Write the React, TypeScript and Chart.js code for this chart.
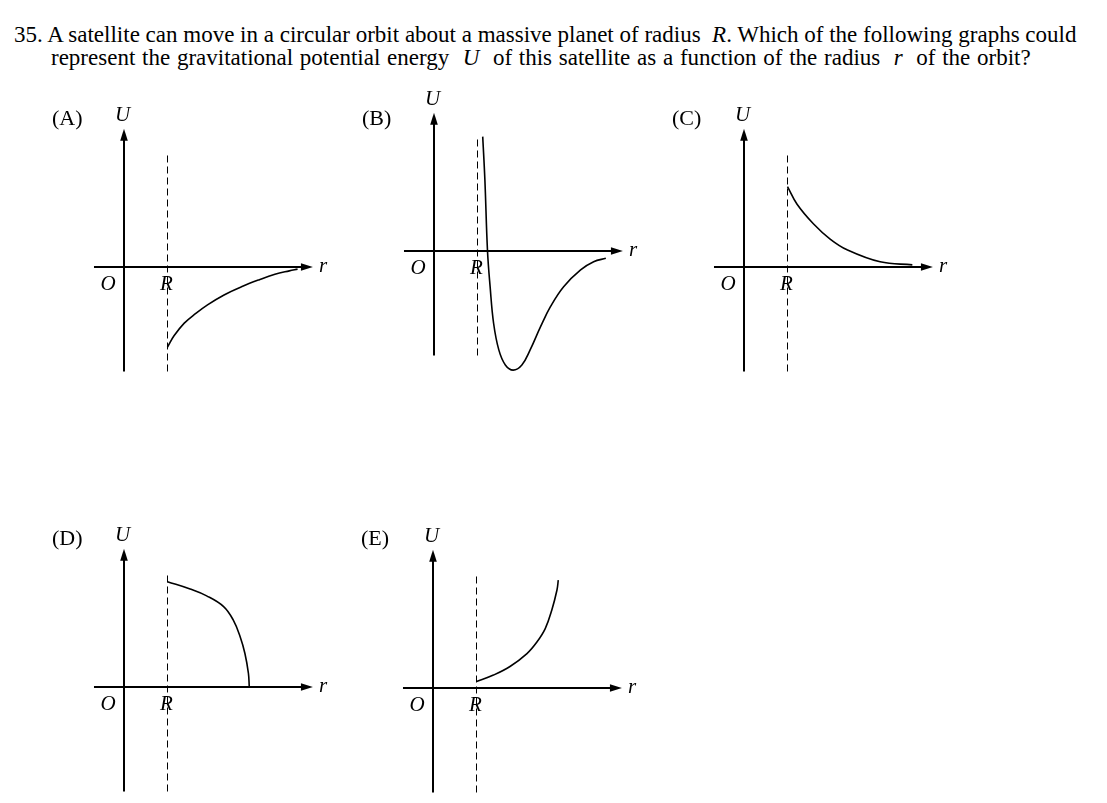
import React, { useEffect, useRef } from "react";
import { Chart, registerables } from "chart.js";

Chart.register(...registerables);

// ---- data (r in units of R, U in arbitrary units) ----
const R_POS = 1;
const X_AXIS = [-0.69, 4.09];
const Y_AXIS = [-2.43, 2.96];
const DASH_Y = [-2.43, 2.66];

const A_R = [1, 1.15, 1.38, 1.65, 1.92, 2.3, 2.7, 3.1, 3.47, 3.8, 3.99];
const A_U = [-1.86, -1.6, -1.31, -1.08, -0.88, -0.65, -0.46, -0.3, -0.17, -0.09, -0.05];

const B_R = [1.12, 1.17, 1.23, 1.29, 1.37, 1.49, 1.64, 1.82, 2.02, 2.21, 2.45, 2.68, 2.98, 3.37, 3.67, 3.95];
const B_U = [2.66, 1.65, 0, -0.83, -1.68, -2.3, -2.65, -2.77, -2.65, -2.3, -1.76, -1.29, -0.83, -0.44, -0.25, -0.17];

const C_R = [1.0, 1.22, 1.6, 1.98, 2.37, 3.13, 3.87];
const C_U = [1.87, 1.46, 1.0, 0.65, 0.4, 0.12, 0.05];

const D_R = [1.0, 1.52, 1.9, 2.29, 2.51, 2.67, 2.78, 2.86, 2.88];
const D_U = [2.45, 2.28, 2.12, 1.87, 1.56, 1.17, 0.78, 0.32, 0];

const E_R = [1.0, 1.39, 1.77, 2.16, 2.39, 2.58, 2.73, 2.85, 2.88];
const E_U = [0.15, 0.3, 0.5, 0.8, 1.07, 1.38, 1.81, 2.28, 2.51];

const LETTERS = ["(A)", "(B)", "(C)", "(D)", "(E)"];

// ---- layout ----
const PX_X = 43.5; // pixels per unit (r)
const PX_Y = 43; // pixels per unit (U)
const CW = 300;
const CH = 296;
const OFF_X = 85; // origin offset inside canvas
const OFF_Y = 170;

type Panel = {
  letter: string;
  ox: number;
  oy: number;
  letterY: number;
  r: number[];
  u: number[];
};

const PANELS: Panel[] = [
  { letter: LETTERS[0], ox: 124, oy: 267, letterY: 125, r: A_R, u: A_U },
  { letter: LETTERS[1], ox: 434, oy: 251, letterY: 125, r: B_R, u: B_U },
  { letter: LETTERS[2], ox: 744, oy: 267, letterY: 125, r: C_R, u: C_U },
  { letter: LETTERS[3], ox: 124, oy: 687, letterY: 545, r: D_R, u: D_U },
  { letter: LETTERS[4], ox: 433, oy: 688, letterY: 545, r: E_R, u: E_U },
];

const SERIF = '"Liberation Serif", "Times New Roman", serif';

function PanelChart({ p }: { p: Panel }) {
  const ref = useRef<HTMLCanvasElement | null>(null);
  useEffect(() => {
    if (!ref.current) return;
    const top = p.oy - OFF_Y;
    const decor = {
      id: "decor",
      afterDatasetsDraw(chart: any) {
        const ctx = chart.ctx as CanvasRenderingContext2D;
        const xs = chart.scales.x;
        const ys = chart.scales.y;
        const x0 = xs.getPixelForValue(0);
        const y0 = ys.getPixelForValue(0);
        const xr = xs.getPixelForValue(R_POS);
        const xEnd = xs.getPixelForValue(X_AXIS[1]);
        const yEnd = ys.getPixelForValue(Y_AXIS[1]);
        ctx.save();
        ctx.fillStyle = "#000";
        // arrow on r-axis
        ctx.beginPath();
        ctx.moveTo(xEnd - 1, y0 - 3.8);
        ctx.lineTo(xEnd + 11, y0);
        ctx.lineTo(xEnd - 1, y0 + 3.8);
        ctx.closePath();
        ctx.fill();
        // arrow on U-axis
        ctx.beginPath();
        ctx.moveTo(x0 - 3.8, yEnd + 1);
        ctx.lineTo(x0, yEnd - 11);
        ctx.lineTo(x0 + 3.8, yEnd + 1);
        ctx.closePath();
        ctx.fill();
        // labels
        ctx.textBaseline = "alphabetic";
        ctx.font = `22px ${SERIF}`;
        ctx.textAlign = "left";
        ctx.fillText(p.letter, x0 - 72, p.letterY - top);
        ctx.font = `italic 21px ${SERIF}`;
        ctx.textAlign = "center";
        ctx.fillText("U", x0 - 1.5, y0 - 146);
        ctx.fillText("O", x0 - 16, y0 + 23);
        ctx.fillText("R", xr - 1, y0 + 23);
        ctx.textAlign = "left";
        ctx.fillText("r", xEnd + 17, y0 + 5);
        ctx.restore();
      },
    };

    const line = (data: { x: number; y: number }[], extra: any) => ({
      data,
      borderColor: "#000",
      pointRadius: 0,
      fill: false,
      ...extra,
    });

    const chart = new Chart(ref.current, {
      type: "line",
      data: {
        datasets: [
          line(
            [
              { x: X_AXIS[0], y: 0 },
              { x: X_AXIS[1], y: 0 },
            ],
            { borderWidth: 2, borderCapStyle: "butt" }
          ),
          line(
            [
              { x: 0, y: Y_AXIS[0] },
              { x: 0, y: Y_AXIS[1] },
            ],
            { borderWidth: 2, borderCapStyle: "butt" }
          ),
          line(
            [
              { x: R_POS, y: DASH_Y[0] },
              { x: R_POS, y: DASH_Y[1] },
            ],
            { borderWidth: 1, borderDash: [7, 4] }
          ),
          line(
            p.r.map((r, i) => ({ x: r, y: p.u[i] })),
            { borderWidth: 1.6, tension: 0.4 }
          ),
        ],
      },
      options: {
        animation: false,
        responsive: false,
        events: [],
        layout: { padding: 0 },
        plugins: { legend: { display: false }, tooltip: { enabled: false } },
        scales: {
          x: { type: "linear", display: false, min: -OFF_X / PX_X, max: (CW - OFF_X) / PX_X },
          y: { type: "linear", display: false, min: -(CH - OFF_Y) / PX_Y, max: OFF_Y / PX_Y },
        },
      } as any,
      plugins: [decor],
    });
    return () => chart.destroy();
  }, [p]);

  return (
    <canvas
      ref={ref}
      width={CW}
      height={CH}
      style={{
        position: "absolute",
        left: p.ox - OFF_X,
        top: p.oy - OFF_Y,
        width: CW,
        height: CH,
      }}
    />
  );
}

export default function App() {
  return (
    <div
      style={{
        position: "absolute",
        left: 0,
        top: 0,
        width: 1107,
        height: 803,
        overflow: "hidden",
        background: "#fff",
      }}
    >
      {PANELS.map((p) => (
        <PanelChart key={p.letter} p={p} />
      ))}
      <div
        style={{
          position: "absolute",
          left: 14,
          top: 23,
          font: `23px ${SERIF}`,
          lineHeight: "23px",
          whiteSpace: "pre",
          color: "#000",
        }}
      >
        <div>
          35. A satellite can move in a circular orbit about a massive planet of radius  <i>R</i>. Which of the following graphs could
        </div>
        <div style={{ paddingLeft: 37, wordSpacing: "1px" }}>
          represent the gravitational potential energy  <i>U</i>  of this satellite as a function of the radius  <i>r</i>  of the orbit?
        </div>
      </div>
    </div>
  );
}
